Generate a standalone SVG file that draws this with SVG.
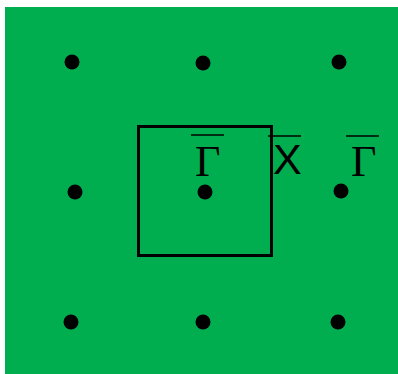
<svg xmlns="http://www.w3.org/2000/svg" width="398" height="374" viewBox="0 0 398 374">
<style>
.dot{fill:#000}
.bar{stroke:#000;stroke-width:1.5}
.g{font-family:"Liberation Serif",serif;font-size:44px;fill:#000}
.x{font-family:"Liberation Sans",sans-serif;font-size:43px;fill:#000}
</style>
<rect x="5" y="7" width="393" height="367" fill="#00ae4f"/>
<g id="dots">
<circle class="dot" cx="72" cy="62" r="7.5"/>
<circle class="dot" cx="203" cy="63" r="7.5"/>
<circle class="dot" cx="339" cy="62" r="7.5"/>
<circle class="dot" cx="75" cy="192" r="7.5"/>
<circle class="dot" cx="205" cy="192" r="7.5"/>
<circle class="dot" cx="341" cy="191" r="7.5"/>
<circle class="dot" cx="71" cy="322" r="7.5"/>
<circle class="dot" cx="203" cy="322" r="7.5"/>
<circle class="dot" cx="338" cy="322" r="7.5"/>
</g>
<g id="cell">
<rect x="138.5" y="126.5" width="133" height="129" fill="none" stroke="#000" stroke-width="3"/>
</g>
<g id="labels">
<line class="bar" x1="191" y1="135" x2="224" y2="135"/>
<text class="g" x="195" y="176">Γ</text>
<line class="bar" x1="268" y1="136" x2="301" y2="136"/>
<text class="x" x="273" y="174">X</text>
<line class="bar" x1="346" y1="136" x2="379" y2="136"/>
<text class="g" x="351" y="176">Γ</text>
</g>
</svg>
